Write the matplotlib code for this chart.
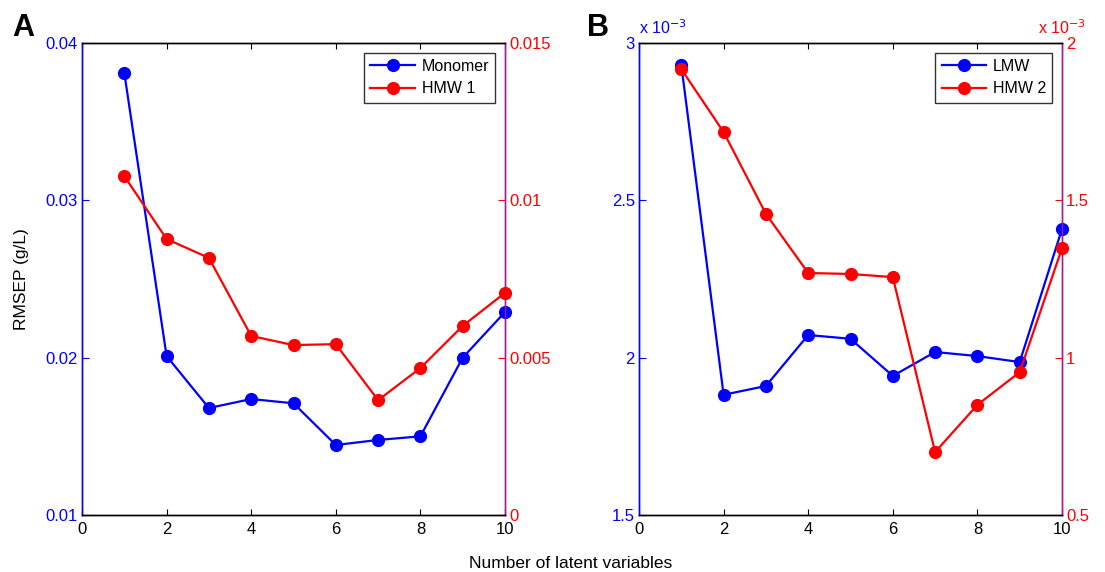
import numpy as np
import matplotlib.pyplot as plt

# number of latent variables
lv = np.arange(1, 11)

# panel A: RMSEP (g/L)
monomer = [0.0381, 0.0201, 0.0168, 0.01737, 0.0171, 0.01445, 0.01477, 0.0150, 0.0200, 0.0229]
hmw1 = [0.01077, 0.00877, 0.00817, 0.00569, 0.00540, 0.00543, 0.00365, 0.00467, 0.00601, 0.00706]

# panel B: RMSEP (g/L), x 10^-3
lmw = [2.930, 1.882, 1.910, 2.072, 2.060, 1.942, 2.018, 2.005, 1.986, 2.409]
hmw2 = [1.917, 1.717, 1.457, 1.269, 1.266, 1.256, 0.700, 0.850, 0.954, 1.348]

plt.rcParams['font.family'] = ['Liberation Sans', 'DejaVu Sans']
plt.rcParams['font.size'] = 11.5

blue = '#0000ff'
red = '#ff0000'
spine_r = '#a01a9a'

fig = plt.figure(figsize=(11.05, 5.72), dpi=100)
W, H = 1105, 572


def make_panel(left, right, yl, yr, lab_l, lab_r, ylim_l, ylim_r, ticks_l, ticks_r, tl_l, tl_r):
    ax = fig.add_axes([left / W, 1 - 515 / H, (right - left) / W, (515 - 43) / H])
    ax2 = ax.twinx()
    ax.plot(lv, yl, '-o', color=blue, lw=1.6, ms=8.5, label=lab_l, clip_on=False, zorder=3)
    ax2.plot(lv, yr, '-o', color=red, lw=1.6, ms=8.5, label=lab_r, clip_on=False, zorder=3)
    ax.set_xlim(0, 10)
    ax.set_xticks(range(0, 11, 2))
    ax.set_ylim(*ylim_l)
    ax2.set_ylim(*ylim_r)
    ax.set_yticks(ticks_l)
    ax.set_yticklabels(tl_l)
    ax2.set_yticks(ticks_r)
    ax2.set_yticklabels(tl_r)
    ax.tick_params(axis='x', direction='in', top=True, length=4, width=0.8,
                   labelsize=12, pad=5)
    ax.tick_params(axis='y', direction='in', colors=blue, length=5, width=0.8,
                   labelsize=12, pad=3)
    ax2.tick_params(axis='y', direction='in', colors=red, length=5, width=0.8,
                    labelsize=12, pad=3)
    for a in (ax, ax2):
        a.spines['left'].set_color(blue)
        a.spines['right'].set_color(spine_r)
        a.spines['top'].set_color('black')
        a.spines['bottom'].set_color('black')
        for s in a.spines.values():
            s.set_linewidth(1.0)
    h1, l1 = ax.get_legend_handles_labels()
    h2, l2 = ax2.get_legend_handles_labels()
    leg = ax2.legend(h1 + h2, l1 + l2, loc='upper right', fancybox=False,
                     edgecolor='black', fontsize=11.5, handlelength=2.8,
                     borderpad=0.4, labelspacing=0.45, handletextpad=0.4,
                     borderaxespad=0.6)
    leg.get_frame().set_linewidth(1.0)
    return ax, ax2


axA, axA2 = make_panel(82, 505, monomer, hmw1, 'Monomer', 'HMW 1',
                       (0.01, 0.04), (0, 0.015),
                       [0.01, 0.02, 0.03, 0.04], [0, 0.005, 0.01, 0.015],
                       ['0.01', '0.02', '0.03', '0.04'], ['0', '0.005', '0.01', '0.015'])
axA.set_ylabel('RMSEP (g/L)', fontsize=12.5, labelpad=12)

axB, axB2 = make_panel(639, 1062, lmw, hmw2, 'LMW', 'HMW 2',
                       (1.5, 3.0), (0.5, 2.0),
                       [1.5, 2.0, 2.5, 3.0], [0.5, 1.0, 1.5, 2.0],
                       ['1.5', '2', '2.5', '3'], ['0.5', '1', '1.5', '2'])
axB.text(0.0, 1.012, r'x 10$^{-3}$', transform=axB.transAxes, color=blue,
         fontsize=11.5, ha='left', va='bottom')
axB2.text(1.0, 1.012, r'x 10$^{-3}$', transform=axB2.transAxes, color=red,
          fontsize=11.5, ha='center', va='bottom')

fig.text(12 / W, 1 - 28 / H, 'A', fontsize=22, fontweight='bold', va='center', ha='left')
fig.text(587 / W, 1 - 28 / H, 'B', fontsize=22, fontweight='bold', va='center', ha='left')
fig.text(571 / W, 1 - 563 / H, 'Number of latent variables', fontsize=12.5,
         ha='center', va='center')

fig.savefig('out.png', dpi=100)
